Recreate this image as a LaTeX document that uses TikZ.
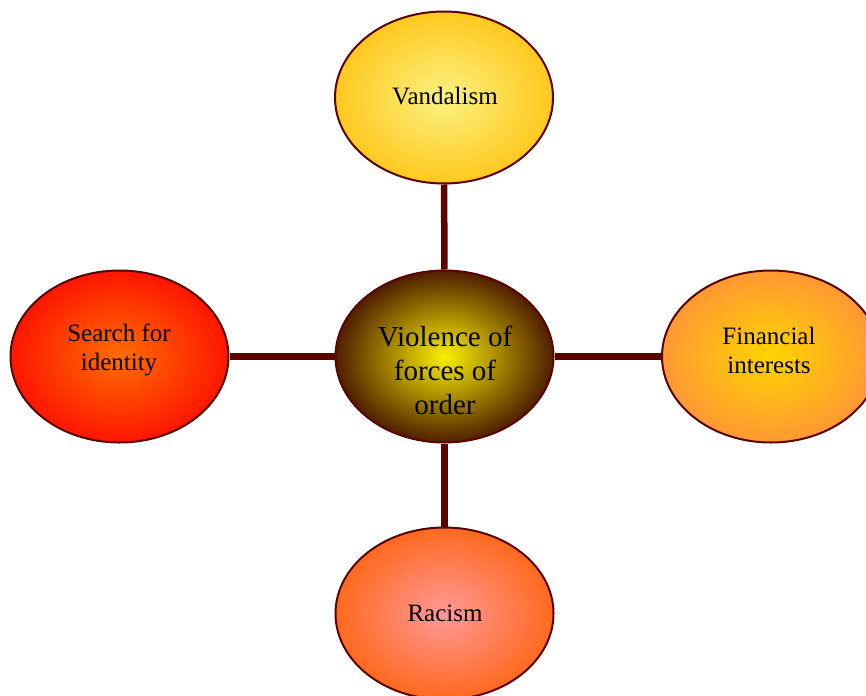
\documentclass[tikz,border=0pt]{standalone}
\usepackage{fontspec}
\setmainfont{Liberation Serif}
\usetikzlibrary{shapes.geometric}
\definecolor{edgebrown}{RGB}{90,5,0}
\definecolor{cIn}{RGB}{250,240,0}
\definecolor{cOut}{RGB}{80,30,0}
\definecolor{tIn}{RGB}{250,242,130}
\definecolor{tOut}{RGB}{255,200,30}
\definecolor{rIn}{RGB}{255,212,0}
\definecolor{rOut}{RGB}{255,152,52}
\definecolor{bIn}{RGB}{255,152,152}
\definecolor{bOut}{RGB}{255,105,30}
\definecolor{lIn}{RGB}{255,110,0}
\definecolor{lOut}{RGB}{255,22,0}
\tikzset{
  bubble/.style={ellipse, draw=edgebrown, line width=2pt, minimum width=218pt, minimum height=172pt, inner sep=0pt},
  link/.style={draw=edgebrown, line width=6.5pt},
  smalltext/.style={align=center, font=\fontsize{25}{29}\selectfont, text=black},
  bigtext/.style={align=center, font=\fontsize{29}{34}\selectfont, text=black},
}
\begin{document}
\begin{tikzpicture}[x=1pt,y=-1pt]
\useasboundingbox (0,0) rectangle (866,695);
\clip (0,0) rectangle (866,695);
\node[bubble, inner color=tIn, outer color=tOut] (top) at (444,97.5) {};
\node[bubble, inner color=cIn, outer color=cOut] (center) at (444.5,356.5) {};
\node[bubble, inner color=lIn, outer color=lOut] (left) at (119.5,356.5) {};
\node[bubble, inner color=rIn, outer color=rOut] (right) at (771,356.5) {};
\node[bubble, inner color=bIn, outer color=bOut] (bottom) at (444.5,613.5) {};
\path[link] (top) -- (center);
\path[link] (center) -- (bottom);
\path[link] (left) -- (center);
\path[link] (center) -- (right);
\node[smalltext] (ttop) at (445,96.5) {Vandalism};
\node[bigtext] (tcenter) at (445,370) {Violence of\\forces of\\order};
\node[smalltext] (tleft) at (119,350) {Search for\\identity};
\node[smalltext] (tright) at (769,350) {Financial\\interests};
\node[smalltext] (tbottom) at (445,613.5) {Racism};
\end{tikzpicture}
\end{document}
